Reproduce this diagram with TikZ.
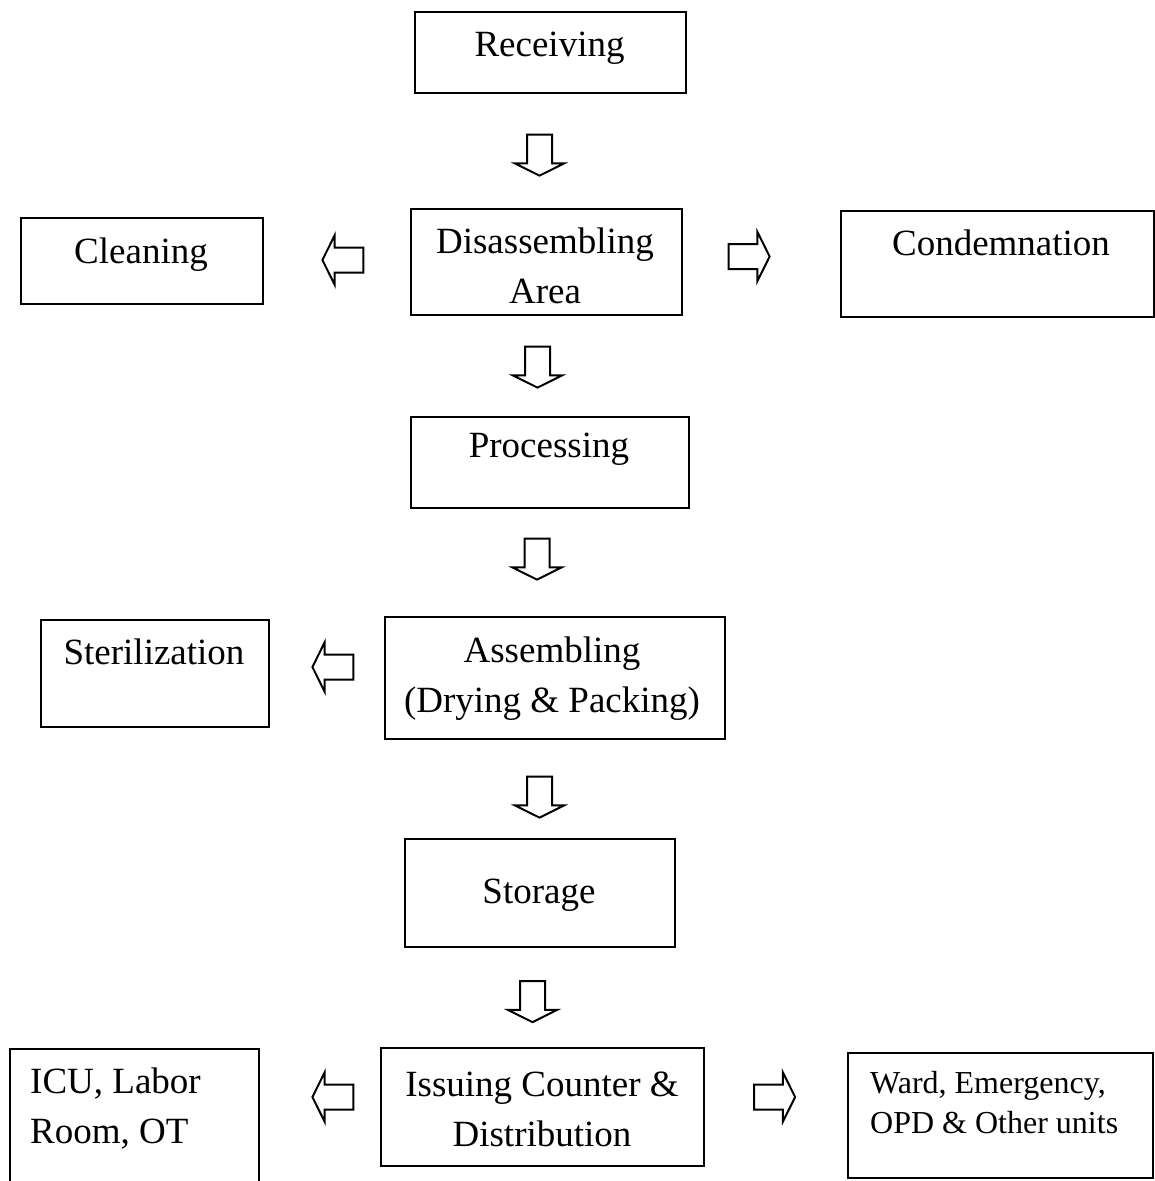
\documentclass[tikz,border=0pt]{standalone}
\usepackage{fontspec}
\setmainfont{Liberation Serif}
\usetikzlibrary{shapes.arrows}

\tikzset{
  box/.style={draw, line width=2pt, inner sep=0pt, anchor=north west},
  lbl/.style={inner sep=0pt, anchor=base, font=\fontsize{37}{50}\selectfont},
  lblsmall/.style={inner sep=0pt, anchor=base west, font=\fontsize{32}{40}\selectfont},
  blockarrow/.style={single arrow, draw, line width=2pt, inner sep=11.5pt,
    minimum height=41pt, single arrow head extend=12pt,
    single arrow tip angle=127},
  downarrow/.style={blockarrow, shape border rotate=270},
  leftarrow/.style={blockarrow, shape border rotate=180},
  rightarrow/.style={blockarrow, shape border rotate=0},
}

\begin{document}
\begin{tikzpicture}[x=1pt,y=-1pt]
\clip (0,0) rectangle (1155,1181);
\fill[white] (0,0) rectangle (1155,1181);

% boxes
\node[box, minimum width=271pt, minimum height=81pt]  (rec) at (414,11)   {};
\node[box, minimum width=242pt, minimum height=86pt]  (cln) at (20,217)   {};
\node[box, minimum width=271pt, minimum height=106pt] (dis) at (410,208)  {};
\node[box, minimum width=313pt, minimum height=106pt] (con) at (840,210)  {};
\node[box, minimum width=278pt, minimum height=91pt]  (pro) at (410,416)  {};
\node[box, minimum width=228pt, minimum height=107pt] (ste) at (40,619)   {};
\node[box, minimum width=340pt, minimum height=122pt] (asm) at (384,616)  {};
\node[box, minimum width=270pt, minimum height=108pt] (sto) at (404,838)  {};
\node[box, minimum width=249pt, minimum height=150pt] (icu) at (9,1048)   {};
\node[box, minimum width=323pt, minimum height=118pt] (iss) at (380,1047) {};
\node[box, minimum width=305pt, minimum height=125pt] (wrd) at (847,1052) {};

% box texts
\node[lbl] (rect) at (549.5,56) {Receiving};
\node[lbl] (clnt) at (141,263)  {Cleaning};
\node[lbl] (dist) at (545,253)  {\begin{tabular}[t]{@{}c@{}}Disassembling\\Area\end{tabular}};
\node[lbl] (cont) at (1001,255) {Condemnation};
\node[lbl] (prot) at (549,457)  {Processing};
\node[lbl] (stet) at (154,664)  {Sterilization};
\node[lbl] (asmt) at (552,662)  {\begin{tabular}[t]{@{}c@{}}Assembling\\(Drying \& Packing)\end{tabular}};
\node[lbl] (stot) at (539,903)  {Storage};
\node[lbl] (isst) at (542,1096) {\begin{tabular}[t]{@{}c@{}}Issuing Counter \&\\Distribution\end{tabular}};
\node[lbl, anchor=base west] (icut) at (30,1093) {\begin{tabular}[t]{@{}l@{}}ICU, Labor\\Room, OT\end{tabular}};
\node[lblsmall] (wrdt) at (870,1093) {\begin{tabular}[t]{@{}l@{}}Ward, Emergency,\\OPD \& Other units\end{tabular}};

% block arrows between the stations
\node[downarrow]  (a1)  at (539.5,152) {};
\node[leftarrow]  (a2)  at (346,260)   {};
\node[rightarrow] (a3)  at (746,256.5) {};
\node[downarrow]  (a4)  at (537.5,364)  {};
\node[downarrow]  (a5)  at (537,556)    {};
\node[leftarrow]  (a6)  at (336,667)    {};
\node[downarrow]  (a7)  at (539.5,794)  {};
\node[downarrow]  (a8)  at (532.5,998.5) {};
\node[leftarrow]  (a9)  at (336,1097)   {};
\node[rightarrow] (a10) at (771.5,1097) {};
\end{tikzpicture}
\end{document}
